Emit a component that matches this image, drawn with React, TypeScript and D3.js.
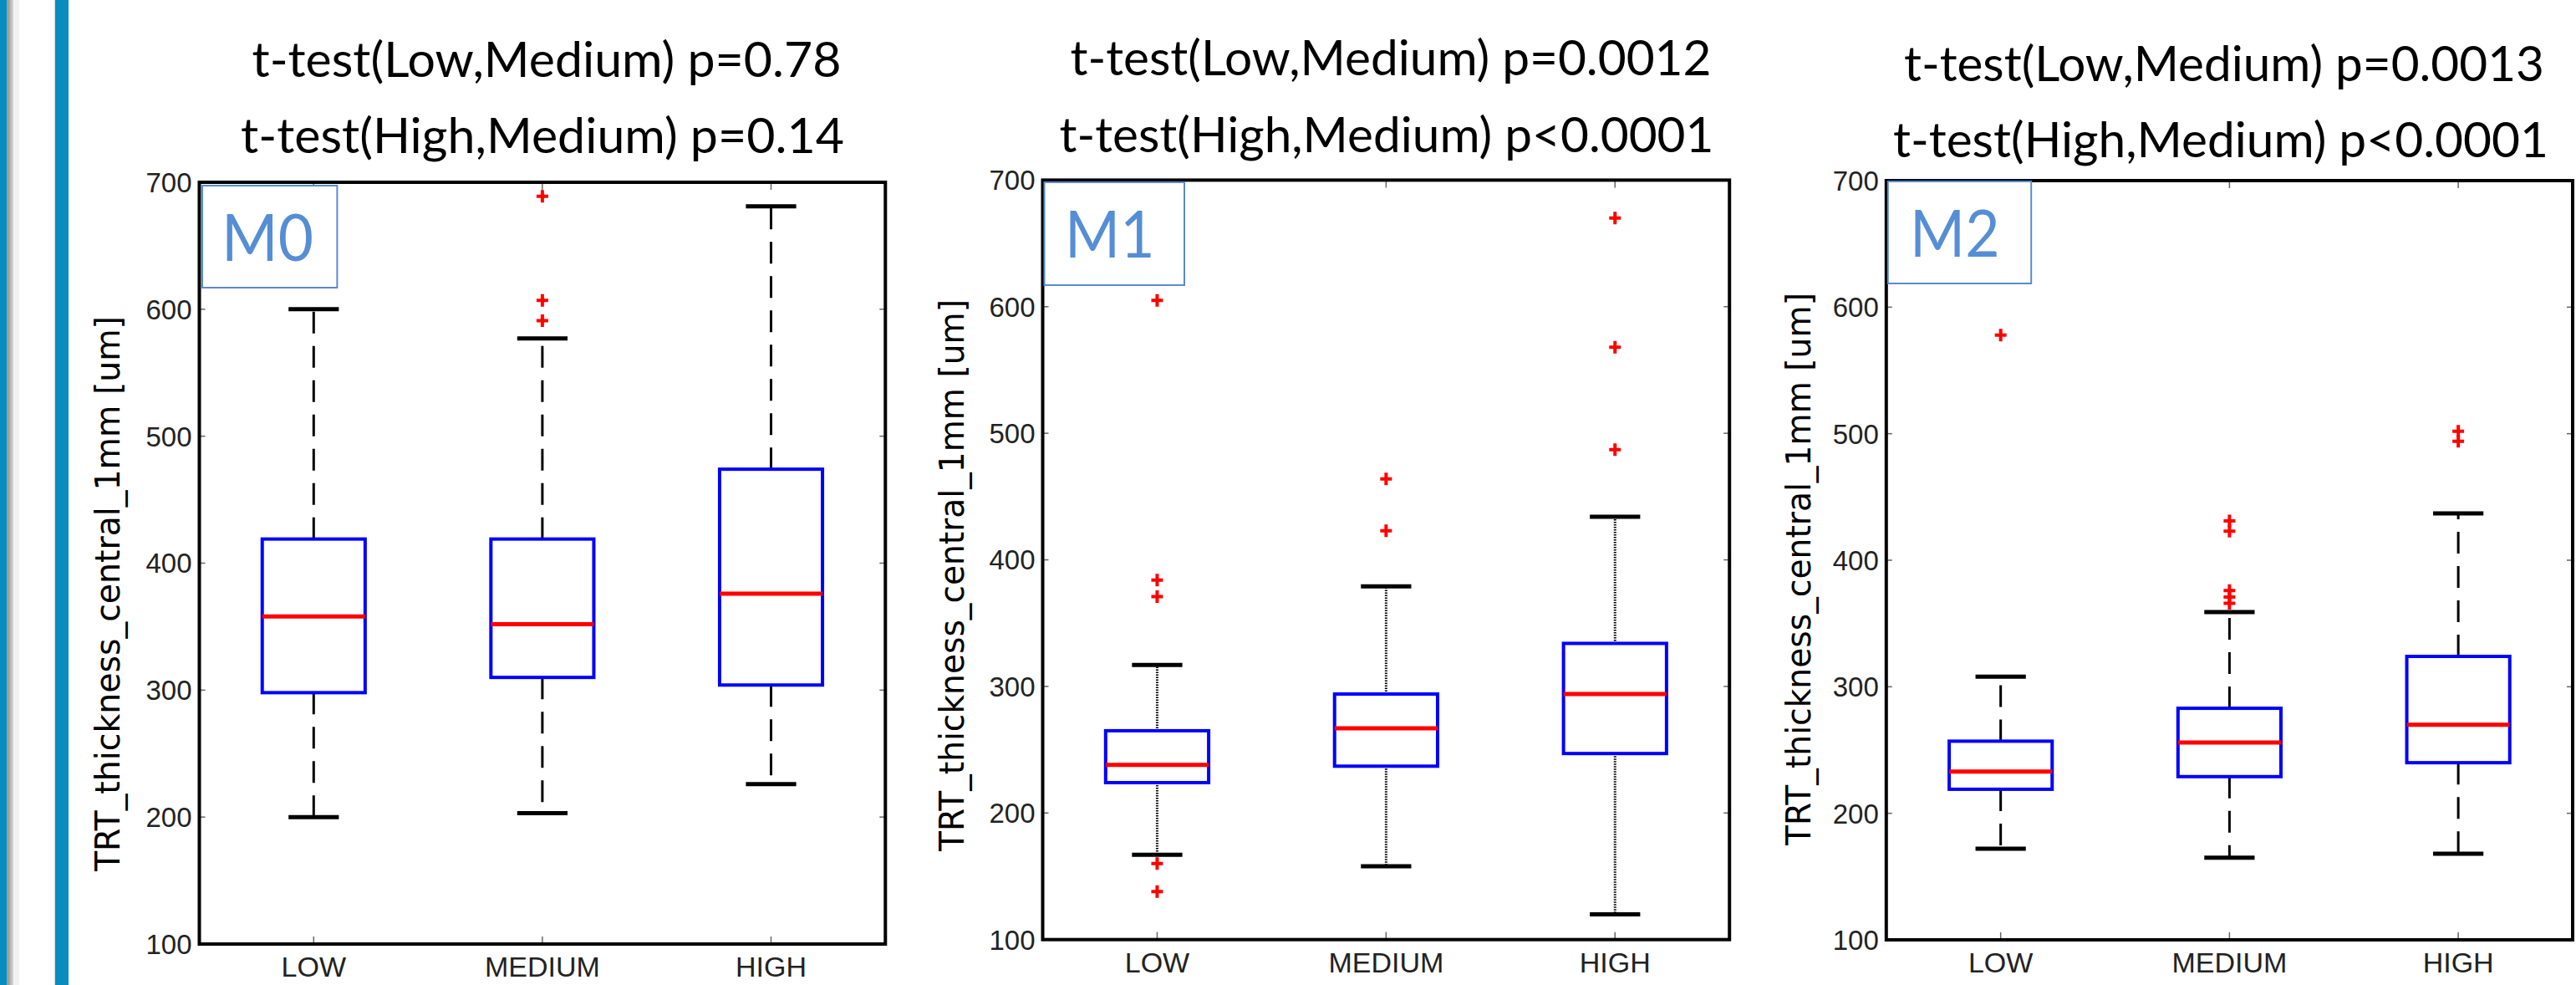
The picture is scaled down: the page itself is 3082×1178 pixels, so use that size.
import React from 'react';
import * as d3 from 'd3';

const categories = ['LOW', 'MEDIUM', 'HIGH'];
const panelNames = ['M0', 'M1', 'M2'];
const yTicks = [100, 200, 300, 400, 500, 600, 700];
const yLabel = 'TRT_thickness_central_1mm [um]';

const titlesLowMed = ['t-test(Low,Medium) p=0.78', 't-test(Low,Medium) p=0.0012', 't-test(Low,Medium) p=0.0013'];
const titlesHighMed = ['t-test(High,Medium) p=0.14', 't-test(High,Medium) p<0.0001', 't-test(High,Medium) p<0.0001'];

// per category: [whisker low, q1, median, q3, whisker high]
const m0Stats = [[200, 298, 358, 419, 600], [203, 310, 352, 419, 577], [226, 304, 376, 474, 681]];
const m0Outliers = [[], [591, 607, 689], []];

const m1Stats = [[167, 224, 238, 265, 317], [158, 237, 267, 294, 379], [120, 247, 294, 334, 434]];
const m1Outliers = [[138, 160, 371, 384, 605], [423, 464], [487, 568, 670]];

const m2Stats = [[172, 219, 233, 257, 308], [165, 229, 256, 283, 359], [168, 240, 270, 324, 437]];
const m2Outliers = [[578], [366, 371, 376, 423, 431], [494, 502]];

const panelStats = [m0Stats, m1Stats, m2Stats];
const panelOutliers = [m0Outliers, m1Outliers, m2Outliers];

// placement of each panel on the page
const layout = [
    { left: 238.5, right: 1059.3, top: 218, bottom: 1129, titleX: [654, 649], titleY: [92, 183], titleW: [705, 722],
      labelX: 143, labelY: 710, labelW: 664, tag: { x0: 242, x1: 403.4, y0: 222, y1: 344, tx: 265, tw: 110, ty: 312 }, dash: '26 15' },
    { left: 1247.5, right: 2069.2, top: 215.4, bottom: 1123.7, titleX: [1664, 1659], titleY: [90, 182], titleW: [767, 783],
      labelX: 1153, labelY: 688, labelW: 660, tag: { x0: 1249.5, x1: 1417, y0: 218, y1: 341, tx: 1274, tw: 107.5, ty: 308 }, dash: '1.5 1.5' },
    { left: 2256.8, right: 3078, top: 216, bottom: 1124, titleX: [2661, 2657], titleY: [97, 188], titleW: [766, 784],
      labelX: 2166, labelY: 680.5, labelW: 661, tag: { x0: 2258.8, x1: 2430.2, y0: 217, y1: 339, tx: 2285, tw: 107.5, ty: 307 }, dash: '26 15' },
];

const Panel = ({ idx }: { idx: number }) => {
    const L = layout[idx];
    const stats = panelStats[idx];
    const outliers = panelOutliers[idx];
    const x = d3.scaleBand().domain(categories).range([L.left, L.right]).padding(0);
    const y = d3.scaleLinear().domain([100, 700]).range([L.bottom, L.top]);
    const bw = x.bandwidth();
    const boxW = bw * 0.45;
    const capW = bw * 0.22;
    const cx = (c: string) => (x(c) as number) + bw / 2;

    return (
        <g>
            {/* titles */}
            {[titlesLowMed[idx], titlesHighMed[idx]].map((t, i) => (
                <text key={i} x={L.titleX[i]} y={L.titleY[i]} textAnchor="middle" fontFamily="Lato" fontSize={58}
                    textLength={L.titleW[i]} lengthAdjust="spacingAndGlyphs" fill="#000">{t}</text>
            ))}
            {/* y label */}
            <text transform={`translate(${L.labelX},${L.labelY}) rotate(-90)`} textAnchor="middle" fontFamily="DejaVu Sans"
                fontSize={40} textLength={L.labelW} lengthAdjust="spacingAndGlyphs" fill="#000">{yLabel}</text>
            {/* y ticks */}
            {yTicks.map(t => (
                <g key={t}>
                    <line x1={L.left} x2={L.left + 7} y1={y(t)} y2={y(t)} stroke="#666" strokeWidth={1.5} />
                    <line x1={L.right - 7} x2={L.right} y1={y(t)} y2={y(t)} stroke="#666" strokeWidth={1.5} />
                    <text x={L.left - 9} y={y(t)} dy="0.36em" textAnchor="end" fontFamily="Liberation Sans" fontSize={33} fill="#222">{t}</text>
                </g>
            ))}
            {/* x ticks */}
            {categories.map(c => (
                <g key={c}>
                    <line x1={cx(c)} x2={cx(c)} y1={L.bottom} y2={L.bottom - 9} stroke="#666" strokeWidth={1.5} />
                    <line x1={cx(c)} x2={cx(c)} y1={L.top} y2={L.top + 9} stroke="#666" strokeWidth={1.5} />
                    <text x={cx(c)} y={L.bottom + 39} textAnchor="middle" fontFamily="Liberation Sans" fontSize={34} fill="#222">{c}</text>
                </g>
            ))}
            {/* boxes */}
            {categories.map((c, i) => {
                const [wl, q1, med, q3, wh] = stats[i];
                const xc = cx(c);
                return (
                    <g key={c}>
                        <line x1={xc} x2={xc} y1={y(q3)} y2={y(wh)} stroke="#000" strokeWidth={3} strokeDasharray={L.dash} />
                        <line x1={xc} x2={xc} y1={y(q1)} y2={y(wl)} stroke="#000" strokeWidth={3} strokeDasharray={L.dash} />
                        <line x1={xc - capW / 2} x2={xc + capW / 2} y1={y(wh)} y2={y(wh)} stroke="#000" strokeWidth={5} />
                        <line x1={xc - capW / 2} x2={xc + capW / 2} y1={y(wl)} y2={y(wl)} stroke="#000" strokeWidth={5} />
                        <rect x={xc - boxW / 2} y={y(q3)} width={boxW} height={y(q1) - y(q3)} fill="none" stroke="#0000ff" strokeWidth={4} />
                        <line x1={xc - boxW / 2} x2={xc + boxW / 2} y1={y(med)} y2={y(med)} stroke="#ff0000" strokeWidth={5} />
                        {outliers[i].map((o, k) => (
                            <path key={k} d={`M${xc - 7},${y(o)}H${xc + 7}M${xc},${y(o) - 7.5}V${y(o) + 7.5}`} stroke="#ff0000" strokeWidth={4} />
                        ))}
                    </g>
                );
            })}
            {/* frame */}
            <rect x={L.left} y={L.top} width={L.right - L.left} height={L.bottom - L.top} fill="none" stroke="#000" strokeWidth={4} />
            {/* panel tag */}
            <rect x={L.tag.x0} y={L.tag.y0} width={L.tag.x1 - L.tag.x0} height={L.tag.y1 - L.tag.y0} fill="#fff" stroke="#5a8bd0" strokeWidth={2} />
            <text x={L.tag.tx} y={L.tag.ty} fontFamily="Lato" fontSize={78} fill="#558ed5" textLength={L.tag.tw} lengthAdjust="spacingAndGlyphs">{panelNames[idx]}</text>
        </g>
    );
};

const App = () => {
    return (
        <svg width={3082} height={1178} style={{ position: 'absolute', left: 0, top: 0, background: '#fff' }}>
            <defs>
                <linearGradient id="edge" x1="0" x2="1" y1="0" y2="0">
                    <stop offset="0" stopColor="#8f8f8f" />
                    <stop offset="1" stopColor="#d8d8d8" />
                </linearGradient>
            </defs>
            <rect x={0} y={0} width={3082} height={1178} fill="#fff" />
            <rect x={0} y={0} width={8.5} height={1178} fill="#078dbf" />
            <rect x={8.5} y={0} width={7.5} height={1178} fill="url(#edge)" />
            <rect x={16} y={0} width={7} height={1178} fill="#f2f2f2" />
            <rect x={64.5} y={0} width={1.5} height={1178} fill="#e2e2e2" />
            <rect x={66} y={0} width={16} height={1178} fill="#078dbf" />
            {panelNames.map((p, i) => <Panel key={p} idx={i} />)}
        </svg>
    );
};

export default App;
